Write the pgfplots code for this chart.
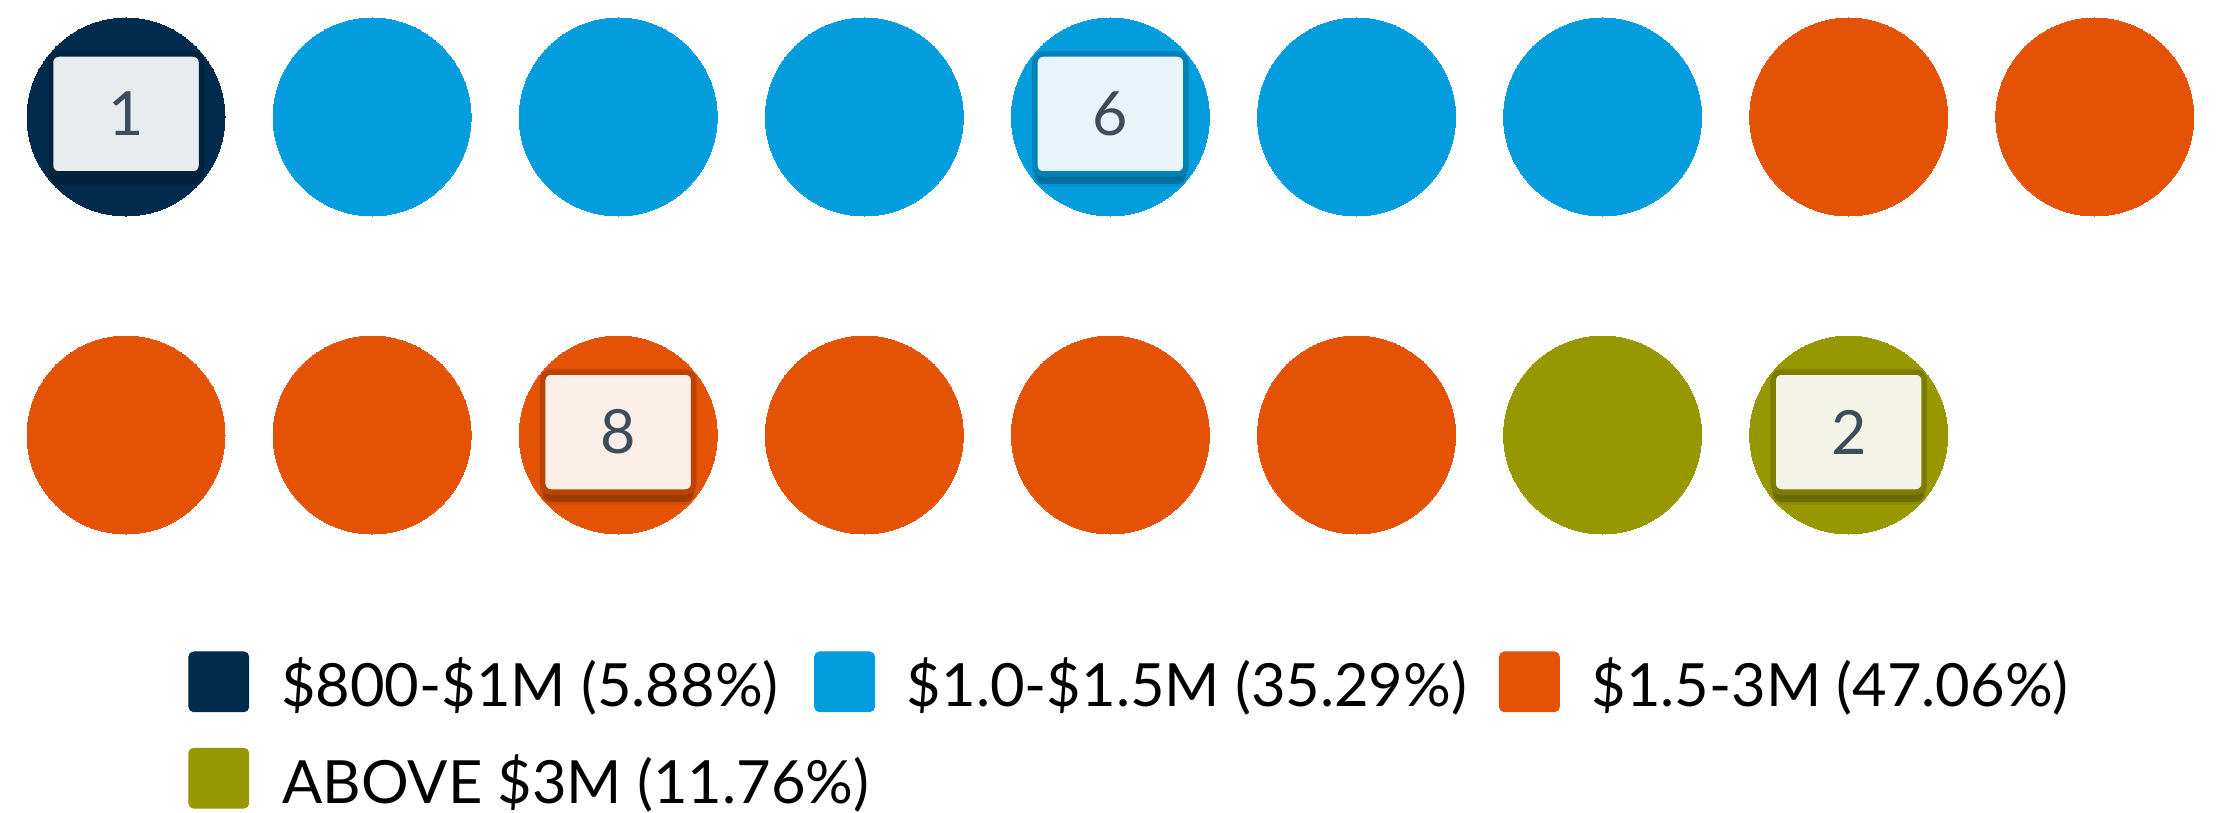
\documentclass[border=0pt]{standalone}
\usepackage{pgfplots}
\pgfplotsset{compat=1.18}
\usepackage{fontspec}
\setmainfont{Lato}
\usetikzlibrary{shadows}
\definecolor{cnavy}{HTML}{012B4D}
\definecolor{cblue}{HTML}{039DDD}
\definecolor{corange}{HTML}{E35205}
\definecolor{colive}{HTML}{979700}
\definecolor{labeltext}{HTML}{3D4B5A}
\tikzset{
  countbox/.style={rectangle, rounded corners=4pt, minimum width=75.5pt, minimum height=60pt,
    line width=2.75pt, draw=#1!82!black, fill=white!92!#1!97!gray, text=labeltext,
    font=\fontsize{30.5pt}{36pt}\selectfont, inner sep=0pt, yshift=1.5pt,
    drop shadow={shadow xshift=0pt, shadow yshift=-5pt, opacity=0.3, fill=black}}
}
\begin{document}
\begin{tikzpicture}
\begin{axis}[
  scale only axis, width=1109pt, height=406.5pt,
  xmin=0, xmax=2218, ymin=0, ymax=813, y dir=reverse,
  hide axis, clip=false,
  legend columns=3,
  legend cell align=left,
  legend style={draw=none, fill=none, inner sep=0pt, at={(axis cs:188,651)}, anchor=north west,
    font=\fontsize{29.8pt}{36pt}\selectfont,
    cells={anchor=base west},
    nodes={inner sep=0pt, text height=27.5pt, text depth=6pt},
    row sep=14.5pt,
    /tikz/every odd column/.append style={column sep=16pt},
    /tikz/every even column/.append style={column sep=0pt}},
  legend image code/.code={\fill[rounded corners=2.5pt] (0pt,-2.5pt) rectangle (30pt,27.5pt);},
]
% circles (one mark per item)
\addplot[only marks, mark=*, mark size=49.5pt, color=cnavy, fill=cnavy, mark options={line width=0pt}]
  coordinates {(126,117)};
\addlegendentry{\makebox[266.5pt][l]{\$800-\$1M (5.88\%)}}
\addplot[only marks, mark=*, mark size=49.5pt, color=cblue, fill=cblue, mark options={line width=0pt}]
  coordinates {(372.1,117) (618.2,117) (864.3,117) (1110.4,117) (1356.5,117) (1602.6,117)};
\addlegendentry{\makebox[296pt][l]{\$1.0-\$1.5M (35.29\%)}}
\addplot[only marks, mark=*, mark size=49.5pt, color=corange, fill=corange, mark options={line width=0pt}]
  coordinates {(1848.7,117) (2094.8,117) (126,435) (372.1,435) (618.2,435) (864.3,435) (1110.4,435) (1356.5,435)};
\addlegendentry{\$1.5-3M (47.06\%)}
\addplot[only marks, mark=*, mark size=49.5pt, color=colive, fill=colive, mark options={line width=0pt}]
  coordinates {(1602.6,435) (1848.7,435)};
\addlegendentry{\rlap{ABOVE \$3M (11.76\%)}}
% count labels
\addplot[forget plot, only marks, mark=none, point meta=explicit symbolic,
  nodes near coords, nodes near coords align={center},
  every node near coord/.style={countbox=cnavy, anchor=center}]
  coordinates {(126,117) [1]};
\addplot[forget plot, only marks, mark=none, point meta=explicit symbolic,
  nodes near coords, nodes near coords align={center},
  every node near coord/.style={countbox=cblue, anchor=center}]
  coordinates {(1110.4,117) [6]};
\addplot[forget plot, only marks, mark=none, point meta=explicit symbolic,
  nodes near coords, nodes near coords align={center},
  every node near coord/.style={countbox=corange, anchor=center}]
  coordinates {(618.2,435) [8]};
\addplot[forget plot, only marks, mark=none, point meta=explicit symbolic,
  nodes near coords, nodes near coords align={center},
  every node near coord/.style={countbox=colive, anchor=center}]
  coordinates {(1848.7,435) [2]};
\end{axis}
\pgfresetboundingbox
\useasboundingbox (current axis.south west) rectangle (current axis.north east);
\end{tikzpicture}
\end{document}
